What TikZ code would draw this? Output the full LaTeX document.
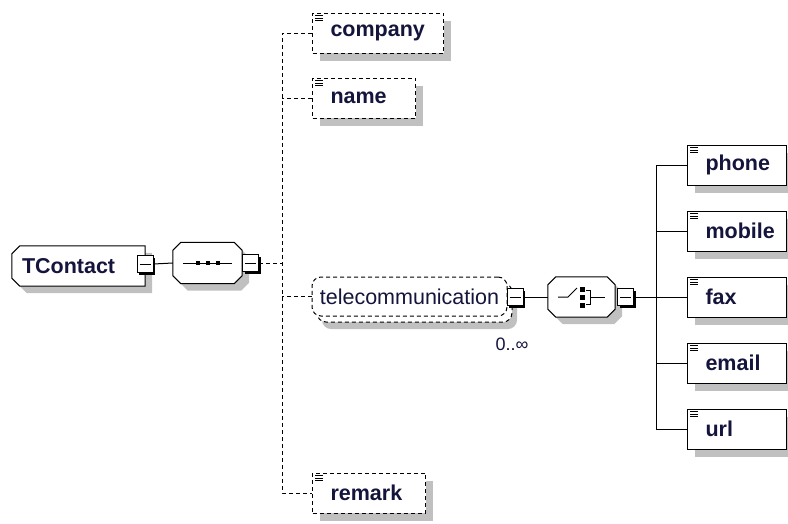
\documentclass[tikz,border=0pt]{standalone}
\usepackage{fontspec}
\setmainfont{Liberation Sans}
\usetikzlibrary{shadows}

\definecolor{xsgray}{RGB}{192,192,192}
\definecolor{xstext}{RGB}{20,20,60}

% octagon round a node; #2 = 1 to cut the right corners too
\newcommand{\octpath}[2]{([shift={(8,0)}]#1.north west)
    \ifnum#2=1 -- ([shift={(-8,0)}]#1.north east) -- ([shift={(0,8)}]#1.north east)
        -- ([shift={(0,-8)}]#1.south east) -- ([shift={(-8,0)}]#1.south east)
    \else -- (#1.north east) -- (#1.south east) \fi
    -- ([shift={(8,0)}]#1.south west) -- ([shift={(0,-8)}]#1.south west)
    -- ([shift={(0,8)}]#1.north west) -- cycle}

\tikzset{
    xsshadow/.style={drop shadow={shadow xshift=7pt,shadow yshift=-8pt,fill=xsgray,opacity=1}},
    xsfont/.style={font=\fontsize{21.5}{24}\selectfont\bfseries, text=xstext},
    elem/.style={draw, line width=1pt, fill=white, xsshadow, xsfont, anchor=west,
        minimum height=40pt, text width=#1, align=left, inner xsep=18pt, inner ysep=0pt},
    optelem/.style={elem=#1, dash pattern=on 4pt off 3pt},
    sqbtn/.style={draw, line width=1pt, fill=white, minimum width=16pt, minimum height=17pt,
        inner sep=0pt, drop shadow={shadow xshift=2pt,shadow yshift=-2pt,fill=black,opacity=1}},
    compbox/.style={minimum width=69pt, minimum height=41pt, inner sep=0pt},
    octshadow/.style={fill=xsgray, transform canvas={shift={(7pt,-7pt)}}},
    octline/.style={draw, line width=1pt, fill=white},
    dashline/.style={line width=1pt, dash pattern=on 4pt off 3pt},
    solidline/.style={line width=1pt}
}

\begin{document}
\begin{tikzpicture}[x=1pt,y=-1pt]
    \useasboundingbox (0,0) rectangle (788,523);

    % 1. root element and its sequence
    \node[compbox, minimum width=133pt, minimum height=40pt] (tcontact) at (78.5,266) {};
    \fill[octshadow] \octpath{tcontact}{0};
    \draw[octline] \octpath{tcontact}{0};
    \node[xsfont, anchor=west, inner sep=0pt] (tclabel) at ([xshift=10]tcontact.west) {TContact};
    \node[sqbtn] (tcsq) at (145,264) {};

    \node[compbox] (seq) at (207.5,263) {};
    \fill[octshadow] \octpath{seq}{1};
    \draw[octline] \octpath{seq}{1};
    \node[sqbtn] (seqsq) at (250.5,263) {};
    \draw[solidline] (tcsq.east) -- (seq.west);
    \draw[solidline] ([xshift=-24.5]seq.center) -- ([xshift=24.5]seq.center);
    \foreach \d in {-10,0,10}
        \fill ([xshift=\d]seq.center) +(-2,-2) rectangle +(2,2);

    % 2. children of the sequence
    \coordinate (sj) at (282,263);
    \node[optelem=95pt] (company) at (312,33) {company};
    \node[optelem=67pt] (name) at (312,98) {name};
    \node[optelem=77pt] (remark) at (312,493) {remark};
    \node[draw, fill=white, line width=1pt, dash pattern=on 4pt off 3pt, rounded corners=9pt,
        minimum width=195pt, minimum height=39pt, inner sep=0pt,
        font=\fontsize{21.5}{24}\selectfont, text=xstext,
        general shadow={shadow xshift=10pt,shadow yshift=-13pt,fill=xsgray},
        general shadow={shadow xshift=5pt,shadow yshift=-6pt,fill=white,draw=black,
            line width=1pt,dash pattern=on 4pt off 3pt}]
        (tele) at (409.5,296.5) {telecommunication\hspace{4pt}};
    \node[sqbtn] (telesq) at (515,297) {};
    \node[font=\fontsize{18}{20}\selectfont, text=xstext] (telemult) at (512,344) {0..∞};

    \draw[dashline] (seqsq.east) -- (sj);
    \draw[dashline] (company.west) -- (company.west -| sj) |- (remark.west);
    \draw[dashline] (name.west) -- (name.west -| sj);
    \draw[dashline] (tele.west) -- (tele.west -| sj);

    % 3. choice inside telecommunication
    \node[compbox, minimum width=67pt, minimum height=40pt] (choice) at (581.5,297) {};
    \fill[octshadow] \octpath{choice}{1};
    \draw[octline] \octpath{choice}{1};
    \node[sqbtn] (choicesq) at (625.5,297) {};
    \draw[solidline] (telesq.east) -- (choice.west);
    \draw[solidline] ([xshift=-23.5]choice.center) -- ++(10,0) -- ++(9,-9);
    \foreach \d in {-8,0,8}
        \fill ([shift={(0.5,\d)}]choice.center) +(-2.5,-2.5) rectangle +(2.5,2.5);
    \draw[solidline] ([shift={(4,-7)}]choice.center) -- ++(5,0) -- ++(0,14) -- ++(-5,0);
    \draw[solidline] ([xshift=9]choice.center) -- ++(14,0);

    % 4. children of the choice
    \coordinate (cj) at (656,297);
    \foreach \e/\y in {phone/165, mobile/231, fax/297, email/363, url/429}
        \node[elem=63pt] (\e) at (687,\y) {\e};
    \draw[solidline] (choicesq.east) -- (cj);
    \draw[solidline] (phone.west) -- (phone.west -| cj) |- (url.west);
    \foreach \e in {mobile, fax, email}
        \draw[solidline] (\e.west) -- (\e.west -| cj);

    % 5. minus signs and element icons
    \foreach \s in {tcsq, seqsq, telesq, choicesq}
        \draw[solidline] ([xshift=3]\s.west) -- ([xshift=-3]\s.east);
    \foreach \e in {company, name, remark, phone, mobile, fax, email, url}
        \foreach \k in {0,1,2}
            \draw[line width=0.8pt] ([shift={(3,{3+2.5*\k})}]\e.north west) -- ++(8,0);

\end{tikzpicture}
\end{document}
